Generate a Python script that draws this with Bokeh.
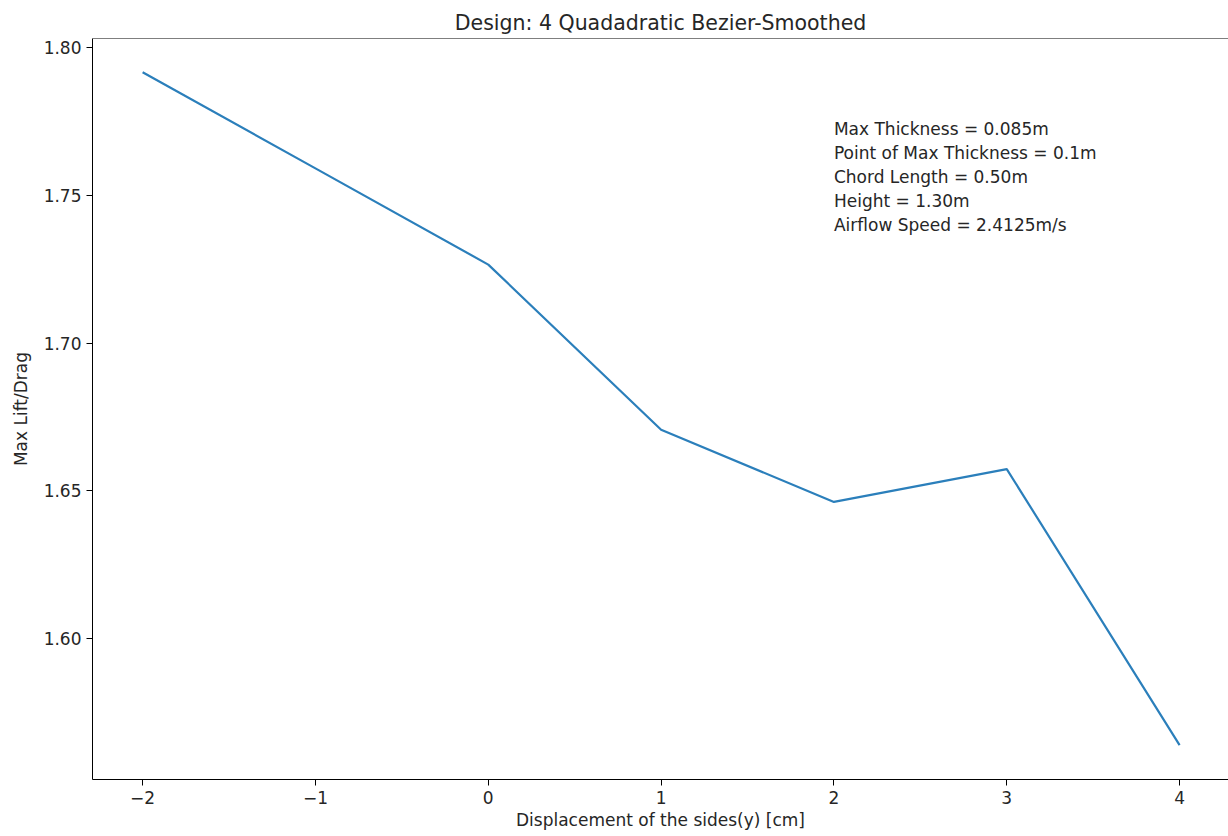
from bokeh.plotting import figure
from bokeh.models import FixedTicker, CustomJSTickFormatter, PrintfTickFormatter, Label, Span
from bokeh.embed import file_html
from bokeh.resources import INLINE

# Max lift/drag ratio against side displacement
displacement_cm = [-2, -1, 0, 1, 2, 3, 4]
max_lift_drag = [1.7915, 1.7590, 1.7265, 1.6707, 1.6463, 1.6574, 1.5641]

x_ticks = [-2, -1, 0, 1, 2, 3, 4]
y_ticks = [1.60, 1.65, 1.70, 1.75, 1.80]

notes = [
    "Max Thickness = 0.085m",
    "Point of Max Thickness = 0.1m",
    "Chord Length = 0.50m",
    "Height = 1.30m",
    "Airflow Speed = 2.4125m/s",
]
note_x = 2.0
note_y_bottom = 1.7398
note_step = 0.00812

FONT = "DejaVu Sans"
TXT = "#262626"

Y_TOP = 1.8029

p = figure(
    width=1228, height=836,
    x_range=(-2.29, 4.283), y_range=(1.5525, Y_TOP),
    output_backend="svg", toolbar_location=None,
    title="Design: 4 Quadadratic Bezier-Smoothed",
    min_border_left=92, min_border_right=0,
    min_border_top=38, min_border_bottom=57,
)

p.title.align = "center"
p.title.text_font = FONT
p.title.text_font_size = "20.5px"
p.title.text_font_style = "normal"
p.title.text_color = TXT
p.title.standoff = 8

p.background_fill_color = "white"
p.border_fill_color = "white"
p.outline_line_color = None
p.xgrid.visible = False
p.ygrid.visible = False

# top edge of the axes box (right edge falls outside the canvas)
p.add_layout(Span(location=Y_TOP, dimension="width", line_color="black", line_width=1))

for ax in (p.xaxis[0], p.yaxis[0]):
    ax.axis_line_color = "black"
    ax.major_tick_line_color = "black"
    ax.major_tick_out = 6
    ax.major_tick_in = 0
    ax.minor_tick_line_color = None
    ax.major_label_text_font = FONT
    ax.major_label_text_font_size = "17px"
    ax.major_label_text_color = TXT
    ax.axis_label_text_font = FONT
    ax.axis_label_text_font_size = "17px"
    ax.axis_label_text_font_style = "normal"
    ax.axis_label_text_color = TXT

p.xaxis.ticker = FixedTicker(ticks=x_ticks)
p.xaxis.formatter = CustomJSTickFormatter(
    code="return tick < 0 ? '\\u2212' + Math.abs(tick) : String(tick);"
)
p.xaxis.axis_label = "Displacement of the sides(y) [cm]"
p.xaxis.major_label_standoff = 5
p.xaxis.axis_label_standoff = 3

p.yaxis.ticker = FixedTicker(ticks=y_ticks)
p.yaxis.formatter = PrintfTickFormatter(format="%.2f")
p.yaxis.axis_label = "Max Lift/Drag"
p.yaxis.major_label_standoff = 5
p.yaxis.axis_label_standoff = 10

p.line(displacement_cm, max_lift_drag, line_color="#2b7fbb", line_width=2.2)

for i, txt in enumerate(notes):
    y = note_y_bottom + (len(notes) - 1 - i) * note_step
    p.add_layout(Label(
        x=note_x, y=y, text=txt,
        text_font=FONT, text_font_size="17px", text_color=TXT,
        text_baseline="middle", text_align="left",
    ))

open("out.html", "w").write(file_html(p, INLINE))
